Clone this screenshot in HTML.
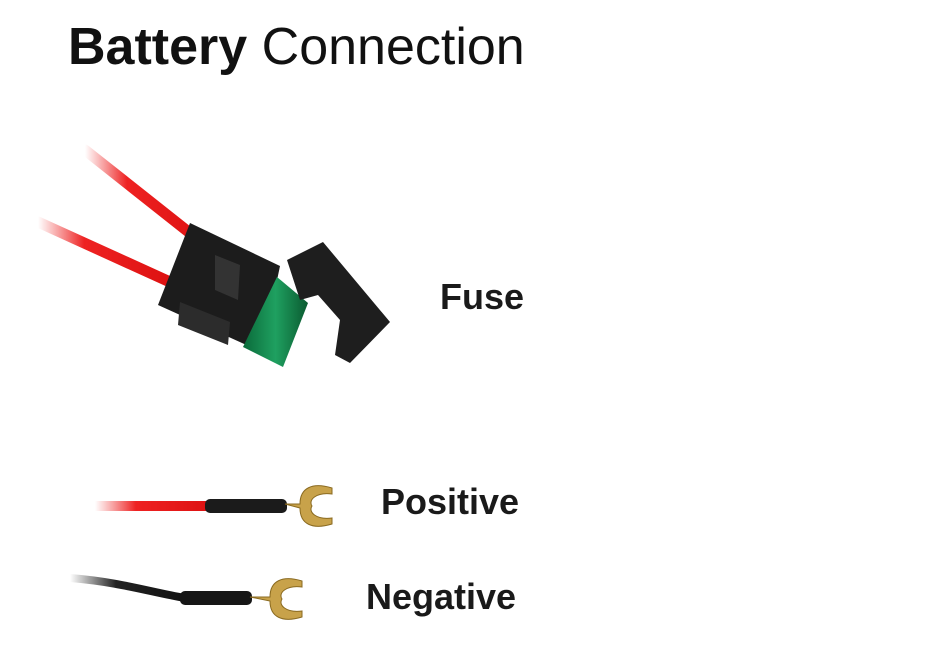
<!DOCTYPE html>
<html><head><style>
body{margin:0;width:950px;height:653px;background:#fff;overflow:hidden;position:relative;font-family:"Liberation Sans",sans-serif}
.t{position:absolute;left:68px;top:17px;font-size:52px;color:#111;white-space:nowrap}
.l{position:absolute;font-size:36px;font-weight:bold;color:#1a1a1a;white-space:nowrap}
svg{position:absolute;left:0;top:0}
</style></head><body>
<svg width="950" height="653">
<defs>
<linearGradient id="rf" x1="0" x2="1"><stop offset="0" stop-color="#e33" stop-opacity="0"/><stop offset="0.35" stop-color="#e22"/><stop offset="1" stop-color="#d11"/></linearGradient>
<linearGradient id="rp" gradientUnits="userSpaceOnUse" x1="95" y1="0" x2="212" y2="0"><stop offset="0" stop-color="#e33" stop-opacity="0"/><stop offset="0.35" stop-color="#e22"/><stop offset="1" stop-color="#d11"/></linearGradient>
<linearGradient id="bf" gradientUnits="userSpaceOnUse" x1="70" y1="0" x2="185" y2="0"><stop offset="0" stop-color="#222" stop-opacity="0"/><stop offset="0.4" stop-color="#222"/><stop offset="1" stop-color="#111"/></linearGradient>
<linearGradient id="g" x1="0" x2="1"><stop offset="0" stop-color="#0a6a3a"/><stop offset="0.5" stop-color="#1fa060"/><stop offset="1" stop-color="#0a5a30"/></linearGradient>
</defs>
<path d="M85 150 L205 245" stroke="url(#rf)" stroke-width="11" stroke-linecap="round" fill="none"/>
<path d="M38 222 L170 282" stroke="url(#rf)" stroke-width="11" stroke-linecap="round" fill="none"/>
<polygon points="190,223 280,266 262,352 158,305" fill="#1c1c1c"/>
<polygon points="215,255 240,265 238,300 215,290" fill="#333"/>
<polygon points="180,302 230,322 228,345 178,325" fill="#2c2c2c"/>
<polygon points="277,277 308,303 283,367 243,347" fill="url(#g)"/>
<polygon points="287,260 323,242 390,322 350,363 335,355 340,320 318,295 300,300" fill="#1e1e1e"/>
<rect x="95" y="501" width="117" height="10" fill="url(#rp)"/>
<rect x="205" y="499" width="82" height="14" rx="5" fill="#1b1b1b"/>
<path d="M285 504 L300 504 C300 488 312 482 332 488 L332 494 C316 492 308 500 312 506 C308 512 316 520 332 518 L332 524 C312 530 300 524 300 508 Z" fill="#c8a24a" stroke="#8a6a20" stroke-width="1"/>
<path d="M70 578 C120 582 150 592 185 598" stroke="url(#bf)" stroke-width="8" stroke-linecap="round" fill="none"/>
<rect x="180" y="591" width="72" height="14" rx="5" fill="#161616"/>
<path d="M250 597 L270 597 C270 581 282 575 302 581 L302 587 C286 585 278 593 282 599 C278 605 286 613 302 611 L302 617 C282 623 270 617 270 601 Z" fill="#c8a24a" stroke="#8a6a20" stroke-width="1"/>
</svg>
<div class="t"><b>Battery</b> Connection</div>
<div class="l" style="left:440px;top:276px">Fuse</div>
<div class="l" style="left:381px;top:481px">Positive</div>
<div class="l" style="left:366px;top:576px">Negative</div>
</body></html>
